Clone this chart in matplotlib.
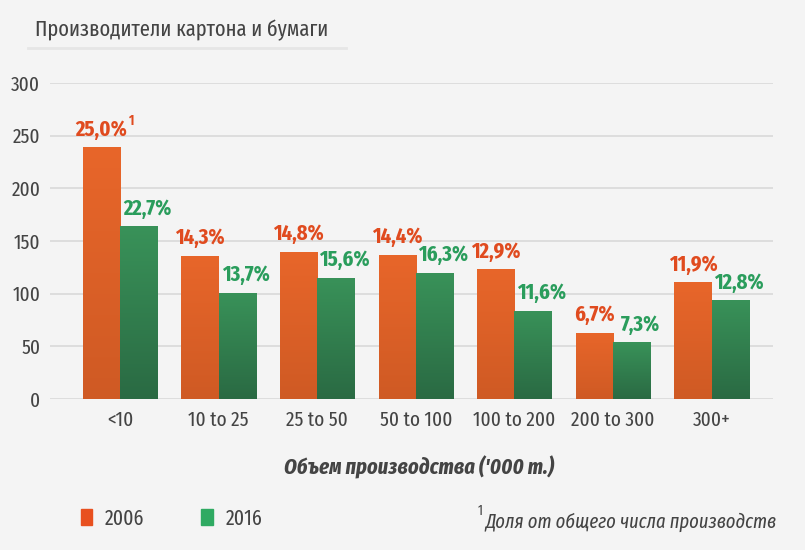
import numpy as np
import matplotlib.pyplot as plt
from matplotlib.colors import LinearSegmentedColormap
from matplotlib.patches import Patch

plt.rcParams['font.family'] = ['Fira Sans Extra Condensed', 'DejaVu Sans']

categories = ['<10', '10 to 25', '25 to 50', '50 to 100', '100 to 200', '200 to 300', '300+']
values_2006 = [239, 136, 140, 137, 123, 63, 111]
values_2016 = [164, 101, 115, 120, 84, 54, 94]
share_2006 = ['25,0%', '14,3%', '14,8%', '14,4%', '12,9%', '6,7%', '11,9%']
share_2016 = ['22,7%', '13,7%', '15,6%', '16,3%', '11,6%', '7,3%', '12,8%']
yticks = [0, 50, 100, 150, 200, 250, 300]

bg = '#f4f4f4'
text_col = '#444444'
orange_cmap = LinearSegmentedColormap.from_list('o', ['#cf5a24', '#e8662a'])
green_cmap = LinearSegmentedColormap.from_list('g', ['#2a6a43', '#399259'])

fig = plt.figure(figsize=(8.05, 5.5), dpi=100, facecolor=bg)
ax = fig.add_axes([0.0621, 0.2745, 0.898, 0.5745], facecolor=bg)

x = np.arange(len(categories))
w = 0.378
bars_a = ax.bar(x - w / 2, values_2006, w, color='#e0622a', zorder=2)
bars_b = ax.bar(x + w / 2, values_2016, w, color='#33824f', zorder=2)

# vertical gradient inside each bar
grad = np.linspace(0, 1, 256).reshape(-1, 1)
for bars, cmap in ((bars_a, orange_cmap), (bars_b, green_cmap)):
    for p in bars:
        x0, h = p.get_x(), p.get_height()
        im = ax.imshow(grad, extent=[x0, x0 + p.get_width(), 0, h], origin='lower',
                       aspect='auto', cmap=cmap, zorder=3)
        im.set_clip_path(p)

for i in range(len(categories)):
    ax.annotate(share_2006[i], (x[i] - w / 2, values_2006[i]), xytext=(0, 5),
                textcoords='offset points', ha='center', va='bottom',
                fontsize=16, fontweight='bold', color='#e04b1f', zorder=4)
    ax.annotate(share_2016[i], (x[i] + w / 2, values_2016[i]), xytext=(6, 5),
                textcoords='offset points', ha='center', va='bottom',
                fontsize=16, fontweight='bold', color='#2a9d5c', zorder=4)
ax.annotate('1', (x[0] - w / 2, values_2006[0]), xytext=(21, 14),
            textcoords='offset points', ha='center', va='bottom',
            fontsize=10, fontweight='bold', color='#e04b1f')

ax.set_xlim(-0.71, 6.62)
ax.set_ylim(0, 300)
ax.set_yticks(yticks)
ax.set_xticks(x)
ax.set_xticklabels(categories)
ax.grid(axis='y', color='#d9d9d9', linewidth=1.2, zorder=0)
ax.set_axisbelow(True)
for s in ax.spines.values():
    s.set_visible(False)
ax.tick_params(length=0, labelsize=15, colors=text_col)
ax.tick_params(axis='y', pad=7)
ax.tick_params(axis='x', pad=8)

fig.text(0.044, 0.945, 'Производители картона и бумаги', fontsize=16,
         color=text_col, va='center')
fig.add_artist(plt.Line2D([0.035, 0.43], [0.912, 0.912], color='#e6e6e6', linewidth=2))

fig.text(0.52, 0.151, "Объем производства ('000 т.)", fontsize=16, fontweight='bold',
         style='italic', color=text_col, ha='center', va='center')

fig.legend(handles=[Patch(color='#e8501f', label='2006'), Patch(color='#2faa62', label='2016')],
           loc='center left', bbox_to_anchor=(0.1, 0.057), ncol=2, frameon=False,
           fontsize=15.5, handlelength=0.55, handleheight=0.75, handletextpad=0.6,
           columnspacing=2.6, labelcolor=text_col, borderaxespad=0, borderpad=0)

note = fig.text(0.965, 0.05, 'Доля от общего числа производств', fontsize=14.5,
                style='italic', color=text_col, ha='right', va='center')
ax.annotate('1', xy=(0, 0.72), xycoords=note, xytext=(-2, 0), textcoords='offset points',
            ha='right', va='bottom', fontsize=10, color=text_col)

fig.savefig('out.png', dpi=100, facecolor=bg)
